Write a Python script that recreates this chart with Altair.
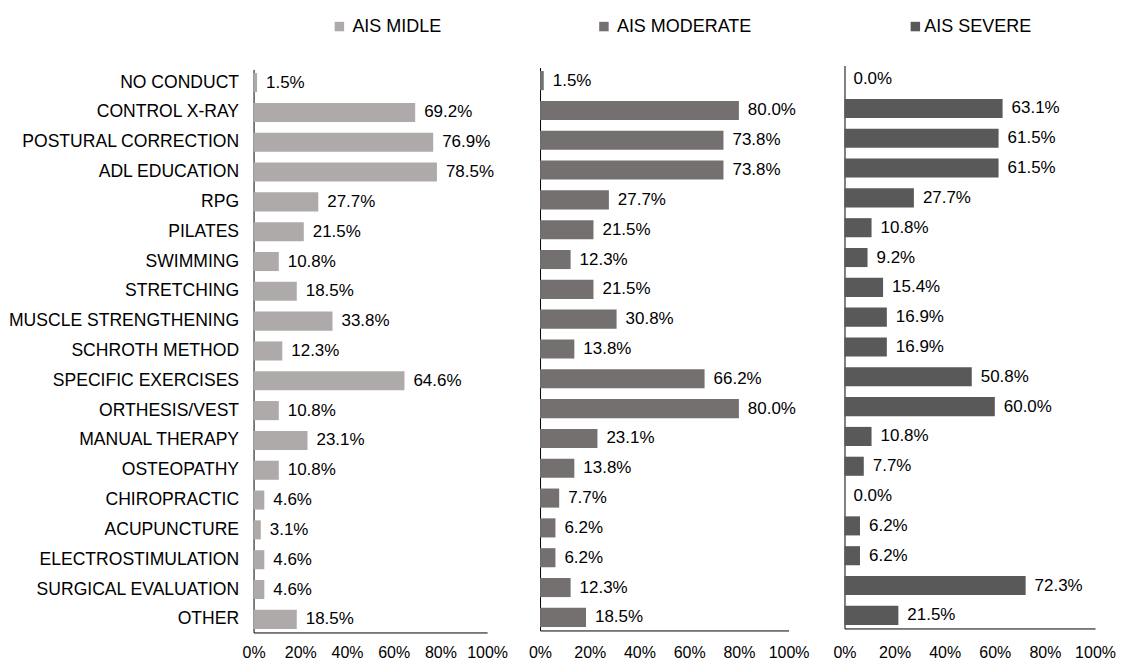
import altair as alt
import pandas as pd

categories = ["NO CONDUCT", "CONTROL X-RAY", "POSTURAL CORRECTION", "ADL EDUCATION", "RPG",
              "PILATES", "SWIMMING", "STRETCHING", "MUSCLE STRENGTHENING", "SCHROTH METHOD",
              "SPECIFIC EXERCISES", "ORTHESIS/VEST", "MANUAL THERAPY", "OSTEOPATHY",
              "CHIROPRACTIC ", "ACUPUNCTURE", "ELECTROSTIMULATION", "SURGICAL EVALUATION", "OTHER"]
midle = [1.5, 69.2, 76.9, 78.5, 27.7, 21.5, 10.8, 18.5, 33.8, 12.3, 64.6, 10.8, 23.1, 10.8, 4.6, 3.1, 4.6, 4.6, 18.5]
moderate = [1.5, 80.0, 73.8, 73.8, 27.7, 21.5, 12.3, 21.5, 30.8, 13.8, 66.2, 80.0, 23.1, 13.8, 7.7, 6.2, 6.2, 12.3, 18.5]
severe = [0.0, 63.1, 61.5, 61.5, 27.7, 10.8, 9.2, 15.4, 16.9, 16.9, 50.8, 60.0, 10.8, 7.7, 0.0, 6.2, 6.2, 72.3, 21.5]
series = ["AIS MIDLE", "AIS MODERATE", "AIS SEVERE"]
colors = ["#AEAAAA", "#747070", "#595959"]

FONT = "Liberation Sans"
widths = [234, 249, 251]
legend_x = [77, 55, 62]
label_off = [4, 4, 0]
y_extent = [0, 11, 15]
lift = [0, 2, 4]
H = 564


def panel(vals, name, color, width, lx, lo, ext, up, show_labels):
    df = pd.DataFrame({
        "cat": categories,
        "val": [v / 100 for v in vals],
        "lab": [f"{v:.1f}%" for v in vals],
        "series": name,
    })
    yaxis = dict(labels=show_labels, ticks=False, domain=True, domainColor="#000",
                 labelFontSize=17.6, labelFont=FONT, labelColor="#000", labelPadding=15,
                 labelLimit=300)
    if not show_labels:
        yaxis.update(minExtent=ext, maxExtent=ext)
    h = H - up
    y = alt.Y("cat:N", sort=categories, title=None,
              scale=alt.Scale(paddingInner=0.36, paddingOuter=0.12, range=[-up, h]),
              axis=alt.Axis(**yaxis))
    x = alt.X("val:Q", title=None, scale=alt.Scale(domain=[0, 1]),
              axis=alt.Axis(values=[0, 0.2, 0.4, 0.6, 0.8, 1.0], format=".0%", grid=False,
                            ticks=False, domainColor="#000", labelFontSize=16, labelFont=FONT,
                            labelColor="#000", labelPadding=12 + up, labelFlush=False))
    bars = alt.Chart(df).mark_bar().encode(
        x=x, y=y,
        color=alt.Color("series:N", scale=alt.Scale(domain=[name], range=[color]),
                        legend=alt.Legend(title=None, orient="none", legendX=lx, legendY=-52,
                                          symbolType="square", symbolSize=90, labelFontSize=18,
                                          labelFont=FONT, labelColor="#000", labelOffset=lo,
                                          symbolStrokeWidth=0)),
    )
    text = alt.Chart(df).mark_text(align="left", dx=9, fontSize=17, font=FONT, color="#000").encode(
        x=alt.X("val:Q"), y=alt.Y("cat:N", sort=categories), text="lab:N")
    return (bars + text).properties(width=width, height=h)


charts = [panel(v, s, c, w, lx, lo, e, u, i == 0)
          for i, (v, s, c, w, lx, lo, e, u) in enumerate(zip([midle, moderate, severe], series, colors,
                                                             widths, legend_x, label_off,
                                                             y_extent, lift))]

chart = alt.hconcat(*charts, spacing=20).resolve_scale(color="independent").properties(
    padding={"left": 0, "right": 0, "top": 9, "bottom": 0}).configure(
    background="white").configure_view(stroke=None)

chart.save("out.html", embed_options={"renderer": "svg", "actions": False})
